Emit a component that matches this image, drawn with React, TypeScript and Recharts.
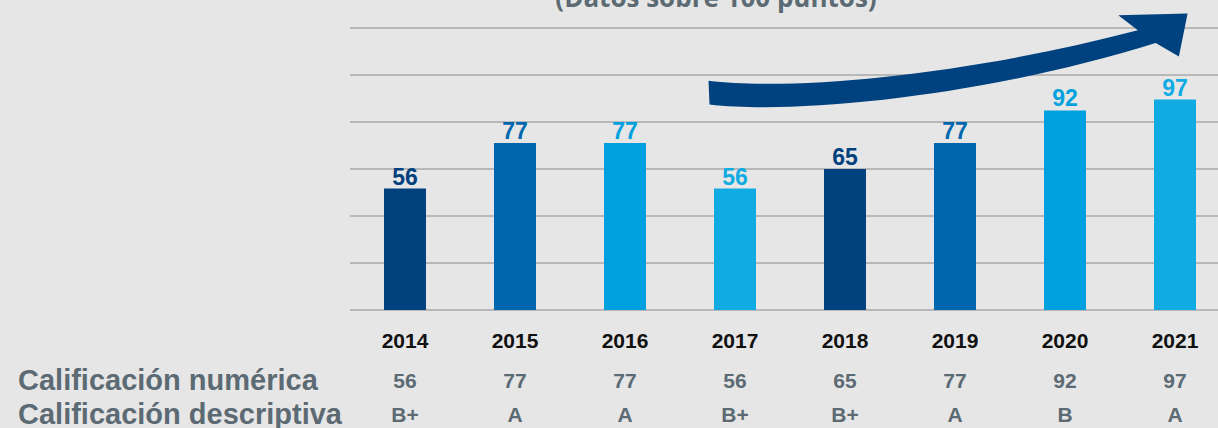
import React from 'react';
import { BarChart, Bar, XAxis, YAxis, CartesianGrid, Cell, LabelList, Customized } from 'recharts';

const years = ['2014', '2015', '2016', '2017', '2018', '2019', '2020', '2021'];
const scores = [56, 77, 77, 56, 65, 77, 92, 97];
const grades = ['B+', 'A', 'A', 'B+', 'B+', 'A', 'B', 'A'];
const barColors = ['#00417e', '#0066ad', '#00a1de', '#10abe2', '#00417e', '#0066ad', '#00a1de', '#10abe2'];
const rowTitles = ['Calificación numérica', 'Calificación descriptiva'];
const title = '(Datos sobre 100 puntos)';

const yMax = 130;
const yTicks = [0, 1, 2, 3, 4, 5, 6].map((i) => (yMax / 6) * i);

const data = years.map((year, i) => ({ year, score: scores[i], grade: grades[i] }));

const grayText = '#5c6a74';
const labelFont = '"Liberation Sans", Arial, sans-serif';

const RowTick = (props: any) => {
    const { x, y, payload } = props;
    const i = payload.index;
    return (
        <g fontFamily={labelFont} fontWeight="bold" textAnchor="middle">
            <text x={x} y={y + 38} fontSize={21} fill="#111111">{years[i]}</text>
            <text x={x} y={y + 78} fontSize={21} fill={grayText}>{scores[i]}</text>
            <text x={x} y={y + 112} fontSize={21} fill={grayText}>{grades[i]}</text>
        </g>
    );
};

const BarValue = (props: any) => {
    const { x, y, width, value, index } = props;
    return (
        <text
            x={x + width / 2}
            y={y - 4}
            textAnchor="middle"
            fontFamily={labelFont}
            fontWeight="bold"
            fontSize={23}
            fill={barColors[index]}
        >
            {value}
        </text>
    );
};

// decoration: title, row captions and the trend arrow
const Extras = () => (
    <g>
        <text x={716} y={7} textAnchor="middle" fontFamily='"Open Sans", sans-serif' fontWeight="bold" fontSize={26} fill={grayText}>
            {title}
        </text>
        <text x={18} y={390} fontFamily={labelFont} fontWeight="bold" fontSize={29} fill={grayText}>{rowTitles[0]}</text>
        <text x={18} y={424} fontFamily={labelFont} fontWeight="bold" fontSize={29} fill={grayText}>{rowTitles[1]}</text>
        <path
            d="M708.5,80.8 C800,92 980,72 1137.8,30.3 L1118.3,15.2 L1187.6,13.5 L1178.9,56.6 L1155.7,43.1 C990,95 800,115 709.5,104.4 Z"
            fill="#00427f"
        />
    </g>
);

export default function App() {
    return (
        <div style={{ position: 'fixed', left: 0, top: 0, width: 1218, height: 428, overflow: 'hidden', background: '#e6e6e6' }}>
            <BarChart width={1240} height={428} data={data} margin={{ top: 28, right: 10, bottom: 0, left: 350 }} barSize={42}>
                <CartesianGrid vertical={false} stroke="#a9a9a9" strokeWidth={1.3} />
                <YAxis hide domain={[0, yMax]} ticks={yTicks} />
                <XAxis dataKey="year" axisLine={false} tickLine={false} tickSize={0} tickMargin={0} height={118} interval={0} tick={<RowTick />} />
                <Bar dataKey="score" isAnimationActive={false}>
                    {data.map((d, i) => (
                        <Cell key={d.year} fill={barColors[i]} />
                    ))}
                    <LabelList dataKey="score" content={<BarValue />} />
                </Bar>
                <Customized component={Extras} />
            </BarChart>
        </div>
    );
}
